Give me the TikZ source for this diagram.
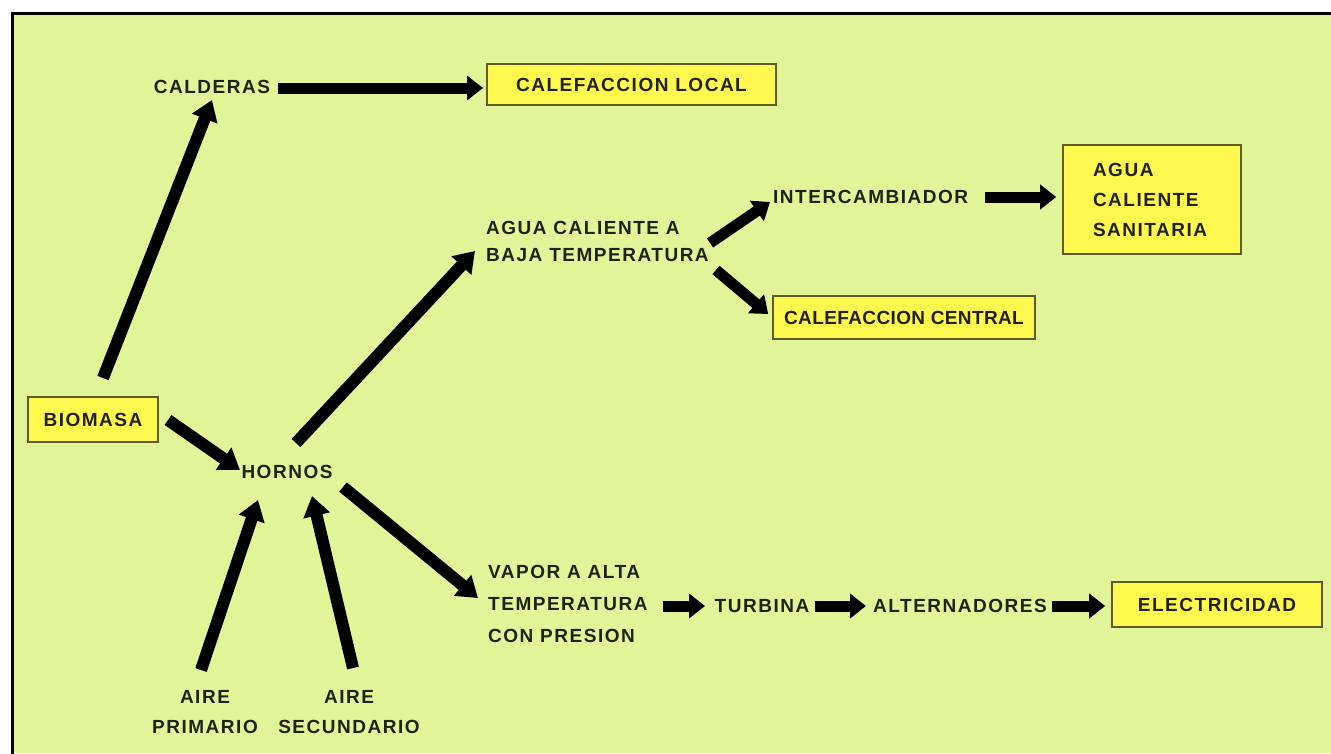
\documentclass[tikz,border=0pt]{standalone}
\usepackage{fontspec}
\newfontfamily\lblfont{Liberation Sans}[LetterSpace=8]
\newfontfamily\lbltight{Liberation Sans}[LetterSpace=2]
\usetikzlibrary{arrows.meta}
\definecolor{paper}{RGB}{226,245,152}
\definecolor{boxfill}{RGB}{255,248,78}
\definecolor{boxline}{RGB}{95,92,40}
\definecolor{ink}{RGB}{34,34,20}

\begin{document}
\begin{tikzpicture}[x=1pt,y=-1pt,
  lbl/.style={font={\lblfont\bfseries\fontsize{19}{#1}\selectfont}, text=ink, inner sep=0pt},
  lbl/.default=27,
  panel/.style={lbl, draw=boxline, line width=1.6pt, fill=boxfill},
  arr/.style={draw=black, line width=12pt, -{Triangle[length=20pt,width=26pt]}},
  smallarr/.style={draw=black, line width=11pt, -{Triangle[length=16pt,width=24pt]}}]

\useasboundingbox (0,0) rectangle (1331,753);
\fill[white] (0,0) rectangle (1331,753);
\fill[paper] (12,13) rectangle (1331,753);
\draw[line width=3pt, line cap=rect] (1331,13) -- (12,13) -- (12,753);

% nodes
\node[lbl] (calderas) at (212,87) {CALDERAS};
\node[panel, minimum width=289pt, minimum height=41pt] (calloc) at (631.5,84.5) {CALEFACCION LOCAL};
\node[lbl, anchor=west, align=left] (agua) at (486,241.5) {AGUA CALIENTE A\\BAJA TEMPERATURA};
\node[lbl, anchor=west] (intercamb) at (773,197) {INTERCAMBIADOR};
\node[panel, lbl=30, align=left, text width=118pt, inner xsep=30pt, minimum height=109pt] (acs) at (1152,199.5) {AGUA\\CALIENTE\\SANITARIA};
\node[panel, font={\lbltight\bfseries\fontsize{19}{27}\selectfont}, minimum width=262pt, minimum height=43pt] (calcen) at (904,317.5) {CALEFACCION CENTRAL};
\node[panel, minimum width=130pt, minimum height=45pt] (biomasa) at (93,419.5) {BIOMASA};
\node[lbl] (hornos) at (287,471.5) {HORNOS};
\node[lbl=32, anchor=west, align=left] (vapor) at (488,604) {VAPOR A ALTA\\TEMPERATURA\\CON PRESION};
\node[lbl] (turbina) at (762,606) {TURBINA};
\node[lbl] (altern) at (960,606) {ALTERNADORES};
\node[panel, minimum width=210pt, minimum height=45pt] (elec) at (1217,604.5) {ELECTRICIDAD};
\node[lbl=30, align=center] (aire1) at (205,712) {AIRE\\PRIMARIO};
\node[lbl=30, align=center] (aire2) at (349,712) {AIRE\\SECUNDARIO};

% connectors
\draw[arr] ([shift={(10,-41.5)}]biomasa.center) -- ([shift={(0,13)}]calderas.center);
\draw[smallarr] ([shift={(66,1)}]calderas.center) -- ([shift={(-148.5,3.5)}]calloc.center);
\draw[arr] ([shift={(75,0.5)}]biomasa.center) -- ([shift={(-47,-1.5)}]hornos.center);
\draw[arr] ([shift={(-4,-42)}]aire1.center) -- ([shift={(-29,28.5)}]hornos.center);
\draw[arr] ([shift={(4,-44)}]aire2.center) -- ([shift={(25,24.5)}]hornos.center);
\draw[arr] ([shift={(9,-28.5)}]hornos.center) -- ([shift={(-11,9.5)}]agua.west);
\draw[arr] ([shift={(56,15.5)}]hornos.center) -- ([shift={(-10,-6)}]vapor.west);
\draw[smallarr] ([shift={(224,1.5)}]agua.west) -- ([shift={(-3,5)}]intercamb.west);
\draw[smallarr] ([shift={(230,28.5)}]agua.west) -- ([shift={(-4,-3.5)}]calcen.west);
\draw[smallarr] ([shift={(212,0)}]intercamb.west) -- ([shift={(-6,-2.5)}]acs.west);
\draw[smallarr] ([shift={(175,2)}]vapor.west) -- ([shift={(-57,0)}]turbina.center);
\draw[smallarr] ([shift={(53,0)}]turbina.center) -- ([shift={(-94,0)}]altern.center);
\draw[smallarr] ([shift={(92,0)}]altern.center) -- ([shift={(-6,1.5)}]elec.west);
\end{tikzpicture}
\end{document}
